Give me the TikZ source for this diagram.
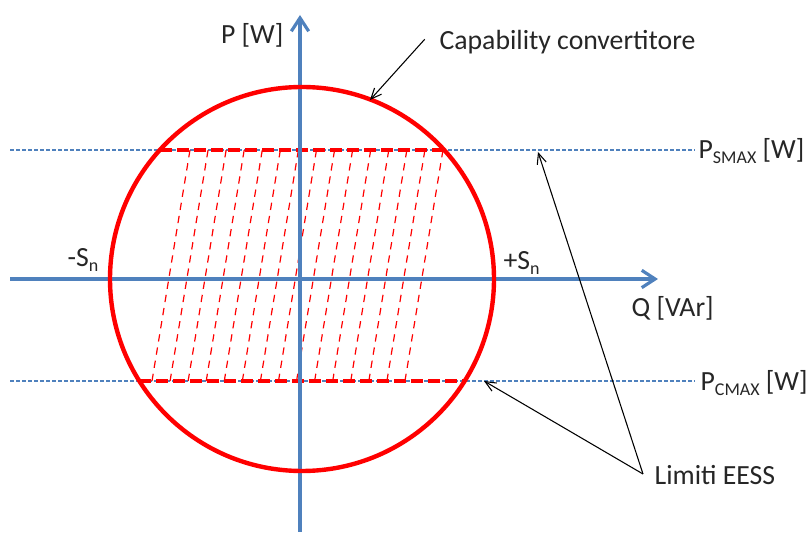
\documentclass[tikz,border=0pt]{standalone}
\usepackage{fontspec}
\setmainfont{Carlito}
\usetikzlibrary{arrows.meta}
\definecolor{axisblue}{RGB}{79,129,189}
\newcommand{\subtxt}[1]{\raisebox{-0.35ex}{\fontsize{13.5}{14}\selectfont #1}}
\tikzset{
    axis/.style={axisblue, line width=2.8pt, -{Straight Barb[length=10pt,width=13pt,line width=2.4pt]}},
    limit/.style={axisblue, line width=0.8pt, dash pattern=on 3pt off 1.5pt},
    edge/.style={red, line width=2.5pt, dash pattern=on 9pt off 3.75pt},
    hatch/.style={red, line width=0.9pt, dash pattern=on 5.5pt off 4.5pt},
    pointer/.style={black, line width=0.8pt, -{Straight Barb[length=8pt,width=7pt,line width=0.8pt]}},
    lbl/.style={inner sep=1pt, font=\fontsize{20.8}{25}\selectfont, text=black!85}
}
\begin{document}
\begin{tikzpicture}[x=0.75pt,y=-0.75pt]
    \useasboundingbox (0,0) rectangle (808,534);
    % limits of the storage system
    \draw[limit] (10,150) -- (695,150);
    \draw[limit] (10,381) -- (695,381);
    % hatched region
    \foreach \i in {0,...,14}
        \draw[hatch] ({152+\i*18.07},381) -- ({190+\i*18.07},150);
    \draw[edge] (160,150) -- (444,150);
    \draw[edge] (139,381) -- (465,381);
    % axes
    \draw[axis] (10,279) -- (658,279);
    \draw[axis] (300,532) -- (300,15);
    % converter capability
    \draw[red, line width=3.3pt] (302,279) circle [radius=192];
    % labels
    \node[lbl, anchor=east] (pw) at (285,35) {P [W]};
    \node[lbl, anchor=west] (qvar) at (630,308) {Q [VAr]};
    \node[lbl, anchor=west] (sneg) at (66,260) {-S\subtxt{n}};
    \node[lbl, anchor=west] (spos) at (502,263) {+S\subtxt{n}};
    \node[lbl, anchor=west] (psmax) at (697,151) {P\subtxt{SMAX} [W]};
    \node[lbl, anchor=west] (pcmax) at (699,383) {P\subtxt{CMAX} [W]};
    \node[lbl, anchor=west] (cap) at (438,42) {Capability convertitore};
    \node[lbl, anchor=west] (lim) at (653,475) {Limiti EESS};
    % pointers
    \coordinate (capend) at (370,100);
    \coordinate (smaxend) at (538,152);
    \coordinate (cmaxend) at (484,381);
    \coordinate (limstart) at (643,474);
    \draw[pointer] ([xshift=-10pt,yshift=2pt]cap.west) -- (capend);
    \draw[pointer] (limstart) -- (smaxend);
    \draw[pointer] (limstart) -- (cmaxend);
\end{tikzpicture}
\end{document}
